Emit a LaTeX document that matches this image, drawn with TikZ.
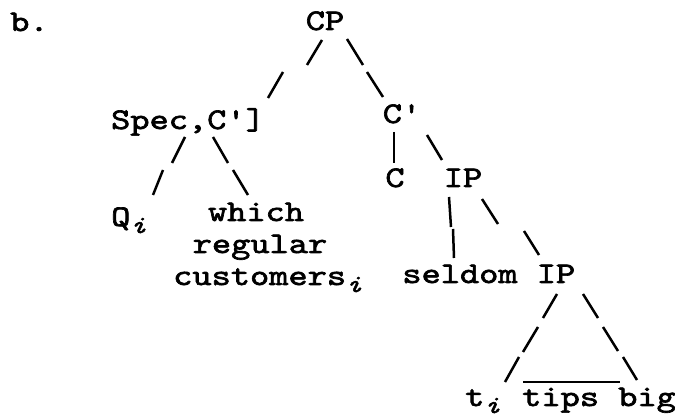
\documentclass[tikz,border=0pt]{standalone}
\usepackage{fontspec}
\setmonofont{lmmono10-regular.otf}[ItalicFont=lmmono10-italic.otf,FakeStretch=1.22,FakeBold=2.2]
\newcommand\subidx{\raisebox{-7pt}{\fontsize{25}{25}\selectfont\itshape i}}
\begin{document}
\begin{tikzpicture}[x=1pt,y=-1pt,
  lbl/.style={inner sep=0pt,font=\ttfamily\fontsize{30}{30}\selectfont},
  br/.style={line width=2.5pt}]
\useasboundingbox (0,0) rectangle (675,419);
% labels
\node[lbl,anchor=base west] (lab) at (10,31) {b.};
\node[lbl,anchor=base] (cp) at (325,30) {CP};
\node[lbl,anchor=base] (spec) at (188,129) {Spec,C']};
\node[lbl,anchor=base] (cbar) at (402,123) {C'};
\node[lbl,anchor=base] (c) at (395,187) {C};
\node[lbl,anchor=base] (ip) at (463,187) {IP};
\node[lbl,anchor=base west] (q) at (111,226) {Q\subidx};
\node[lbl,anchor=base] (which) at (256,221) {which};
\node[lbl,anchor=base] (regular) at (260,253) {regular};
\node[lbl,anchor=base west] (customers) at (173,285) {customers\subidx};
\node[lbl,anchor=base] (seldom) at (460,283) {seldom};
\node[lbl,anchor=base] (ipb) at (556,283) {IP};
\node[lbl,anchor=base west] (t) at (465,406) {t\subidx};
\node[lbl,anchor=base west] (tips) at (522,406) {tips big};
% branches (typewriter-style broken strokes)
% CP -- Spec,C']
\draw[br] (322,40) -- (307,65);
\draw[br] (283,72) -- (268,98);
% CP -- C'
\draw[br] (347,39) -- (363,65);
\draw[br] (367,72) -- (383,97);
% C' -- C
\draw[br] (394,132) -- (394,163);
% C' -- IP
\draw[br] (427,135) -- (442,160);
% Spec -- Q
\draw[br] (185,137) -- (172,163);
\draw[br] (163,170) -- (153,195);
% Spec -- which
\draw[br] (213,137) -- (228,163);
\draw[br] (233,170) -- (248,195);
% IP -- seldom
\draw[br] (449,197) -- (451,227);
\draw[br] (453,229) -- (454,258);
% IP -- IP
\draw[br] (482,199) -- (498,224);
\draw[br] (524,231) -- (539,255);
% triangle
\draw[br] (557,294) -- (543,318);
\draw[br] (538,327) -- (523,352);
\draw[br] (519,357) -- (505,382);
\draw[br] (583,294) -- (598,318);
\draw[br] (603,327) -- (618,351);
\draw[br] (623,357) -- (637,380);
\draw[br] (523,382) -- (620,382);
\end{tikzpicture}
\end{document}
